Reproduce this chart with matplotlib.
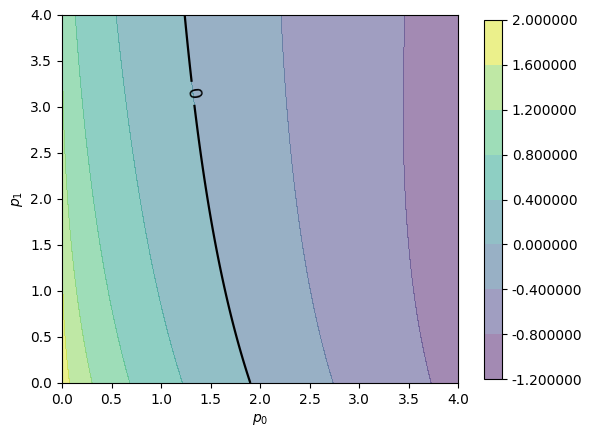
#!/usr/bin/env python3

#Import#
import numpy as np
import matplotlib
matplotlib.use("Agg")
import matplotlib.pyplot as plt

#Values#
levels = [-1.2, -0.8, -0.4, 0.0, 0.4, 0.8, 1.2, 1.6, 2.0]
p_range = [0.0, 4.0]
f_top = 2.0          # value at p0=0, p1=0
a_decay = 0.17       # how fast the p0=0 value drops with p1
s_top = 1.45         # sqrt(p0) slope at p1=0
s_decay = 0.089      # how fast that slope drops with p1
label_pos = [(1.33, 3.15)]

#Surface#
p0 = np.linspace(p_range[0], p_range[1], 300)
p1 = np.linspace(p_range[0], p_range[1], 300)
P0, P1 = np.meshgrid(p0, p1)
F = f_top / (1 + a_decay * P1) - s_top * np.sqrt(P0) / (1 + s_decay * P1)

#Plot#
fig, ax = plt.subplots()
fig.set_size_inches(5.92, 4.37)
cs = ax.contourf(P0, P1, F, levels=levels, cmap="viridis", alpha=0.5)
cl = ax.contour(P0, P1, F, levels=[0.0], colors="black", linewidths=1.6)
ax.clabel(cl, manual=label_pos, fontsize=13, inline=True)
cb = fig.colorbar(cs, ax=ax, format="%f")
ax.set_xlabel("$p_0$")
ax.set_ylabel("$p_1$")
ax.set_position([62 / 592, 1 - 383 / 437, 396 / 592, 368 / 437])
cb.ax.set_position([484 / 592, 1 - 384 / 437, 18 / 592, 369 / 437])
fig.savefig("out.png", dpi=100)
plt.close(fig)
